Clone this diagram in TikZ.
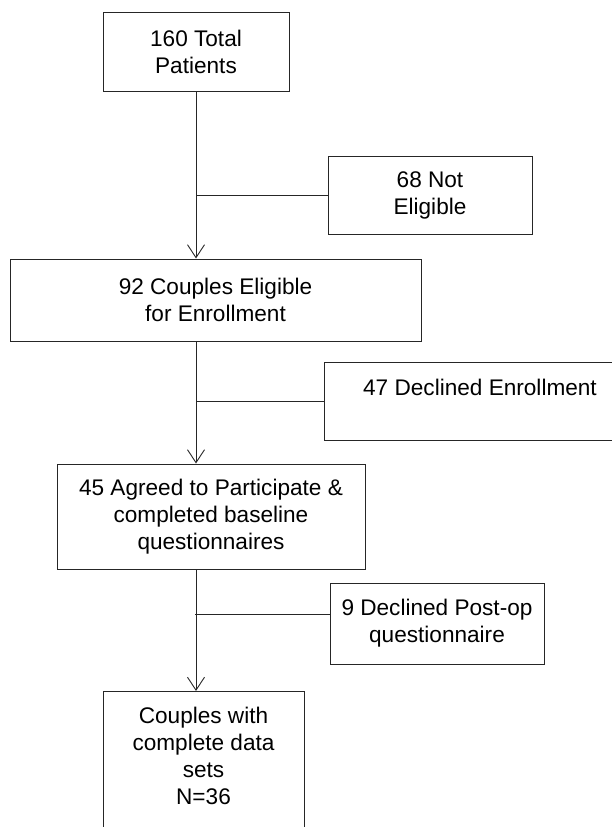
\documentclass[tikz,border=0pt]{standalone}
\usepackage{fontspec}
\setmainfont{Liberation Sans}
\usetikzlibrary{arrows.meta}
\tikzset{
    box/.style={draw=black!85, line width=1pt, align=center, inner sep=0pt,
                font=\fontsize{22.6}{27}\selectfont},
    arr/.style={-{Straight Barb[length=13pt, width=17pt]}, line width=0.9pt, black!85},
    ln/.style={line width=0.9pt, black!85},
}

\begin{document}
\begin{tikzpicture}[x=1pt, y=-1pt]
    \useasboundingbox (0,0) rectangle (611,827);
    % main column
    \node[box, minimum width=186pt, minimum height=79pt] (total) at (196,51.5) {160 Total\\Patients};
    \node[box, minimum width=411pt, minimum height=82pt] (elig) at (215.5,300) {92 Couples Eligible\\for Enrollment};
    \node[box, minimum width=308pt, minimum height=105pt] (agreed) at (211,516.5) {45 Agreed to Participate \&\\completed baseline\\questionnaires};
    \node[box, minimum width=201pt, minimum height=182pt, anchor=north] (final) at (203.5,691) {Couples with\\complete data\\sets\\N=36\\\mbox{}\\\mbox{}};
    % exclusions
    \node[box, minimum width=204pt, minimum height=78pt] (noelig) at (430,195) {68 Not\\Eligible};
    \node[box, minimum width=312pt, minimum height=78pt] (declined) at (480,401) {47 Declined Enrollment\\\mbox{}};
    \node[box, minimum width=214pt, minimum height=81pt] (postop) at (437,623.5) {9 Declined Post-op\\questionnaire};
    \coordinate (split) at (195,614);
    % connectors
    \draw[arr] (total.south) -- (total.south |- elig.north);
    \draw[ln] (total.south |- noelig.west) -- (noelig.west);
    \draw[arr] (total.south |- elig.south) -- (total.south |- agreed.north);
    \draw[ln] (total.south |- declined.west) -- (declined.west);
    \draw[arr] (total.south |- agreed.south) -- (total.south |- final.north);
    \draw[ln] (split) -- (split -| postop.west);
\end{tikzpicture}
\end{document}
